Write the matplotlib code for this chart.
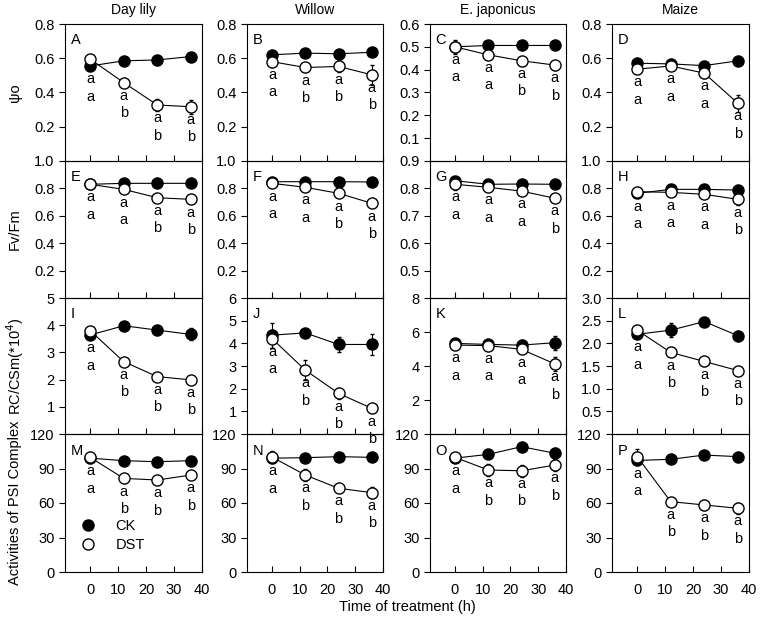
import matplotlib
matplotlib.use("Agg")
import matplotlib.pyplot as plt
from matplotlib.lines import Line2D

plt.rcParams['font.family'] = ['Liberation Sans', 'DejaVu Sans']
plt.rcParams['font.size'] = 10

# sampling times (h)
time = [0, 12, 24, 36]
species = ['Day lily', 'Willow', 'E. japonicus', 'Maize']

# row 1: psi_o
psi_ck = [[0.555, 0.585, 0.59, 0.61],
          [0.62, 0.63, 0.626, 0.635],
          [0.50, 0.506, 0.506, 0.506],
          [0.571, 0.567, 0.557, 0.585]]
psi_ck_err = [[0.02, 0.01, 0.01, 0.01],
              [0.01, 0.01, 0.01, 0.01],
              [0.01, 0.01, 0.01, 0.01],
              [0.01, 0.01, 0.01, 0.01]]
psi_dst = [[0.595, 0.458, 0.327, 0.317],
           [0.58, 0.546, 0.552, 0.503],
           [0.50, 0.465, 0.439, 0.42],
           [0.536, 0.555, 0.513, 0.337]]
psi_dst_err = [[0.01, 0.02, 0.035, 0.04],
               [0.03, 0.01, 0.035, 0.06],
               [0.03, 0.01, 0.01, 0.02],
               [0.01, 0.01, 0.03, 0.05]]

# row 2: Fv/Fm
fvfm_ck = [[0.83, 0.837, 0.837, 0.837],
           [0.849, 0.849, 0.849, 0.847],
           [0.828, 0.815, 0.816, 0.815],
           [0.764, 0.793, 0.793, 0.788]]
fvfm_ck_err = [[0.01, 0.01, 0.01, 0.01],
               [0.01, 0.01, 0.01, 0.01],
               [0.005, 0.005, 0.005, 0.005],
               [0.03, 0.01, 0.01, 0.01]]
fvfm_dst = [[0.83, 0.793, 0.732, 0.72],
            [0.837, 0.808, 0.764, 0.691],
            [0.815, 0.804, 0.79, 0.764],
            [0.776, 0.771, 0.757, 0.72]]
fvfm_dst_err = [[0.01, 0.02, 0.02, 0.01],
                [0.02, 0.01, 0.01, 0.01],
                [0.02, 0.015, 0.01, 0.01],
                [0.02, 0.01, 0.02, 0.04]]

# row 3: RC/CSm
rc_ck = [[3.64, 3.98, 3.82, 3.66],
         [4.36, 4.46, 3.95, 3.95],
         [5.33, 5.27, 5.23, 5.37],
         [2.2, 2.29, 2.48, 2.17]]
rc_ck_err = [[0.1, 0.15, 0.1, 0.22],
             [0.55, 0.1, 0.35, 0.45],
             [0.1, 0.1, 0.3, 0.4],
             [0.05, 0.15, 0.05, 0.1]]
rc_dst = [[3.8, 2.66, 2.11, 1.99],
          [4.21, 2.82, 1.79, 1.13],
          [5.23, 5.2, 4.98, 4.12],
          [2.29, 1.8, 1.6, 1.4]]
rc_dst_err = [[0.1, 0.1, 0.05, 0.05],
              [0.4, 0.45, 0.25, 0.05],
              [0.1, 0.1, 0.1, 0.4],
              [0.05, 0.05, 0.1, 0.05]]

# row 4: PSI activity
psi1_ck = [[99.0, 96.8, 95.9, 96.8],
           [99.0, 99.4, 100.3, 99.7],
           [99.0, 102.3, 109.0, 103.2],
           [97.0, 98.0, 101.7, 100.3]]
psi1_ck_err = [[2, 2, 2, 2],
               [2, 2, 2, 2],
               [2, 2, 2, 5],
               [2, 2, 2, 2]]
psi1_dst = [[99.7, 81.4, 80.0, 84.3],
            [100.0, 84.3, 72.8, 69.0],
            [99.7, 88.7, 88.0, 93.0],
            [100.3, 61.2, 58.3, 55.4]]
psi1_dst_err = [[5, 4, 3, 3],
                [5, 5, 2, 5],
                [3, 5, 5, 5],
                [7, 2, 4, 5]]

# significance letters (upper, lower) per time point
sig_psi = [['aa', 'ab', 'ab', 'ab'], ['aa', 'ab', 'ab', 'ab'],
           ['aa', 'aa', 'ab', 'ab'], ['aa', 'aa', 'aa', 'ab']]
sig_fvfm = [['aa', 'aa', 'ab', 'ab'], ['aa', 'aa', 'ab', 'ab'],
            ['aa', 'aa', 'aa', 'ab'], ['aa', 'aa', 'aa', 'ab']]
sig_rc = [['aa', 'ab', 'ab', 'ab'], ['aa', 'ab', 'ab', 'ab'],
          ['aa', 'aa', 'aa', 'ab'], ['aa', 'ab', 'ab', 'ab']]
sig_psi1 = [['aa', 'ab', 'ab', 'ab'], ['aa', 'ab', 'ab', 'ab'],
            ['aa', 'ab', 'ab', 'ab'], ['aa', 'ab', 'ab', 'ab']]

rows = [
    (psi_ck, psi_ck_err, psi_dst, psi_dst_err, sig_psi, 'ψo'),
    (fvfm_ck, fvfm_ck_err, fvfm_dst, fvfm_dst_err, sig_fvfm, 'Fv/Fm'),
    (rc_ck, rc_ck_err, rc_dst, rc_dst_err, sig_rc, 'RC/CSm(*10$^4$)'),
    (psi1_ck, psi1_ck_err, psi1_dst, psi1_dst_err, sig_psi1, 'Activities of PSI Complex'),
]

# y limits and ticks per panel
ylims = [[(0, 0.8), (0, 0.8), (0, 0.6), (0, 0.8)],
         [(0, 1.0), (0, 1.0), (0.4, 0.9), (0, 1.0)],
         [(0, 5), (0, 6), (0, 8), (0, 3.0)],
         [(0, 120)] * 4]
yticks = [[[0.2, 0.4, 0.6, 0.8], [0.2, 0.4, 0.6, 0.8], [0.1, 0.2, 0.3, 0.4, 0.5, 0.6], [0.2, 0.4, 0.6, 0.8]],
          [[0.2, 0.4, 0.6, 0.8, 1.0], [0.2, 0.4, 0.6, 0.8, 1.0], [0.5, 0.6, 0.7, 0.8, 0.9], [0.2, 0.4, 0.6, 0.8, 1.0]],
          [[1, 2, 3, 4, 5], [1, 2, 3, 4, 5, 6], [2, 4, 6, 8], [0.5, 1.0, 1.5, 2.0, 2.5, 3.0]],
          [[0, 30, 60, 90, 120]] * 4]
yfmt = [['%.1f'] * 4, ['%.1f'] * 4, ['%d', '%d', '%d', '%.1f'], ['%d'] * 4]
panel_letters = ['ABCD', 'EFGH', 'IJKL', 'MNOP']

W, H = 760, 633
fig = plt.figure(figsize=(7.6, 6.33), dpi=100)
col_x = [(65, 202), (247, 383), (430, 566), (612, 749)]
row_y = [(24, 161), (161, 298), (298, 434), (434, 572)]

for r, (ck, ck_err, dst, dst_err, sig, ylabel) in enumerate(rows):
    for c in range(4):
        x0, x1 = col_x[c]
        y0, y1 = row_y[r]
        ax = fig.add_axes([x0 / W, 1 - y1 / H, (x1 - x0) / W, (y1 - y0) / H])
        ax.patch.set_visible(False)
        ax.errorbar(time, ck[c], yerr=ck_err[c], fmt='-o', color='black',
                    mfc='black', mec='black', ms=8, lw=0.8, elinewidth=0.8,
                    capsize=1.5, zorder=3)
        ax.errorbar(time, dst[c], yerr=dst_err[c], fmt='-o', color='black',
                    mfc='white', mec='black', mew=1.0, ms=8, lw=0.8,
                    elinewidth=0.8, capsize=1.5, zorder=4)
        # significance letters under the lower point
        for i, t in enumerate(time):
            ylow = min(ck[c][i], dst[c][i])
            ax.annotate(sig[c][i][0], (t, ylow), xytext=(0, -9.5),
                        textcoords='offset points', ha='center', va='center',
                        fontsize=10.5, zorder=2, annotation_clip=False)
            ax.annotate(sig[c][i][1], (t, ylow), xytext=(0, -22),
                        textcoords='offset points', ha='center', va='center',
                        fontsize=10.5, zorder=2, annotation_clip=False)
        ax.set_xlim(-9, 40)
        ax.set_ylim(*ylims[r][c])
        ax.set_yticks(yticks[r][c])
        ax.set_yticklabels([yfmt[r][c] % v for v in yticks[r][c]])
        ax.set_xticks([0, 10, 20, 30, 40])
        ax.tick_params(axis='x', direction='in', length=4, width=0.8)
        ax.tick_params(axis='y', direction='out', length=4, width=0.8, labelsize=10.5)
        if r < 3:
            ax.tick_params(axis='x', labelbottom=False)
        else:
            ax.tick_params(axis='x', labelsize=10.5, pad=8)
        for s in ax.spines.values():
            s.set_linewidth(0.8)
        ax.text(0.04, 0.88, panel_letters[r][c], transform=ax.transAxes,
                ha='left', va='center', fontsize=10.5)
        if r == 0:
            ax.set_title(species[c], fontsize=10, pad=7)
        if r == 3 and c == 0:
            handles = [Line2D([], [], ls='none', marker='o', ms=8, mfc='black', mec='black'),
                       Line2D([], [], ls='none', marker='o', ms=8, mfc='white', mec='black')]
            ax.legend(handles, ['CK', 'DST'], loc='lower left',
                      bbox_to_anchor=(0.07, 0.1), frameon=False,
                      handlelength=1.0, handletextpad=1.4, labelspacing=0.35,
                      fontsize=10.5, borderaxespad=0)
    yc = (row_y[r][0] + row_y[r][1]) / 2
    fig.text(15 / W, 1 - yc / H, ylabel, rotation=90, ha='center', va='center',
             fontsize=10.5)

fig.text(407 / W, 1 - 607 / H, 'Time of treatment (h)', ha='center',
         va='center', fontsize=10.5)

fig.savefig('out.png', dpi=100)
